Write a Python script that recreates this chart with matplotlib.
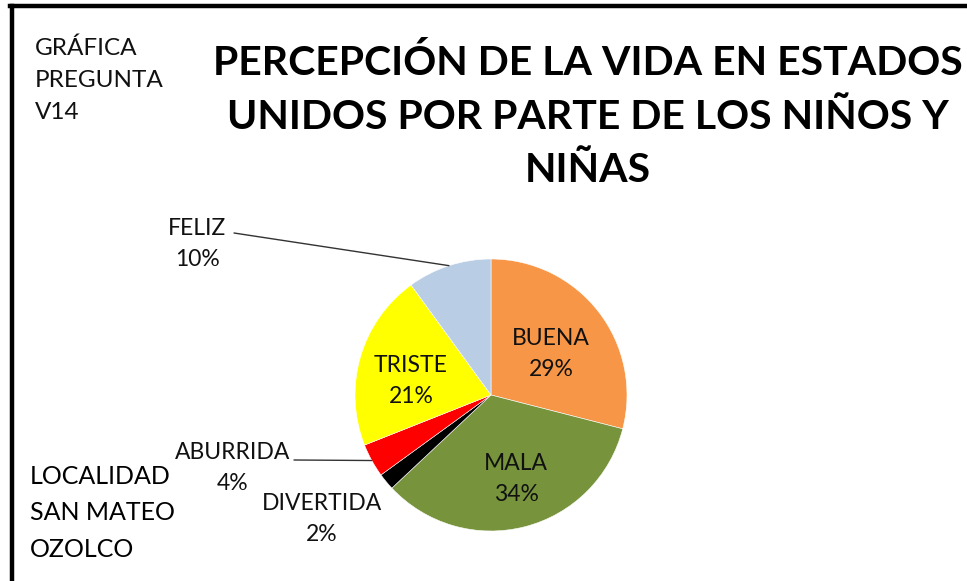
import numpy as np
import matplotlib.pyplot as plt
from matplotlib.lines import Line2D

plt.rcParams['font.family'] = ['Lato', 'DejaVu Sans']

# datos de la grafica (sentido horario desde las 12)
labels = ['BUENA', 'MALA', 'DIVERTIDA', 'ABURRIDA', 'TRISTE', 'FELIZ']
values = [29, 34, 2, 4, 21, 10]
colors = ['#F79646', '#77933C', '#000000', '#FF0000', '#FFFF00', '#B9CDE5']

title = 'PERCEPCIÓN DE LA VIDA EN ESTADOS\nUNIDOS POR PARTE DE LOS NIÑOS Y\nNIÑAS'
note_top = 'GRÁFICA\nPREGUNTA\nV14'
note_bottom = 'LOCALIDAD\nSAN MATEO\nOZOLCO'

W, H = 967, 581
fig = plt.figure(figsize=(W / 100, H / 100), dpi=100)
fig.patch.set_facecolor('white')

def fx(px):
    return px / W

def fy(py):
    return 1 - py / H

# pie: centro (491, 395), radio 136 px
cx, cy, r = 491, 395, 136
ax = fig.add_axes([fx(cx - r), fy(cy + r), 2 * r / W, 2 * r / H])
wedges, _ = ax.pie(values, colors=colors, startangle=90, counterclock=False,
                   wedgeprops=dict(edgecolor='white', linewidth=0.4))
ax.set_aspect('equal')
ax.set_xlim(-1, 1)
ax.set_ylim(-1, 1)

# etiquetas dentro
inside = {'BUENA': (551, 354), 'MALA': (516, 479), 'TRISTE': (411, 381)}
# etiquetas fuera
outside = {'FELIZ': (197, 244), 'ABURRIDA': (233, 468), 'DIVERTIDA': (322, 519)}
leader = {'FELIZ': (234, 233), 'ABURRIDA': (294, 460)}

for w, lab, v in zip(wedges, labels, values):
    txt = f'{lab}\n{v}%'
    if lab in inside:
        px, py = inside[lab]
    else:
        px, py = outside[lab]
    fig.text(fx(px), fy(py), txt, ha='center', va='center', fontsize=16.5,
             linespacing=1.62, color='#111111')
    if lab in leader:
        ang = np.deg2rad((w.theta1 + w.theta2) / 2)
        lx, ly = leader[lab]
        ax.annotate('', xy=(np.cos(ang), np.sin(ang)), xycoords='data',
                    xytext=(lx, H - ly), textcoords='figure pixels',
                    arrowprops=dict(arrowstyle='-', color='#333333', lw=1,
                                    shrinkA=0, shrinkB=0))

fig.text(fx(588), fy(117), title, ha='center', va='center', fontsize=29.5,
         fontweight='bold', linespacing=1.55, color='#000000')
fig.text(fx(35), fy(80), note_top, ha='left', va='center', fontsize=17.5,
         linespacing=1.65, color='#111111')
fig.text(fx(30), fy(513), note_bottom, ha='left', va='center', fontsize=18,
         linespacing=1.7, color='#000000')

# marco
fig.add_artist(Line2D([fx(10), 1], [fy(6), fy(6)], color='black', lw=3.2,
                      transform=fig.transFigure))
fig.add_artist(Line2D([fx(12), fx(12)], [fy(6), 0], color='black', lw=3.2,
                      transform=fig.transFigure))

fig.savefig('out.png', dpi=100)
